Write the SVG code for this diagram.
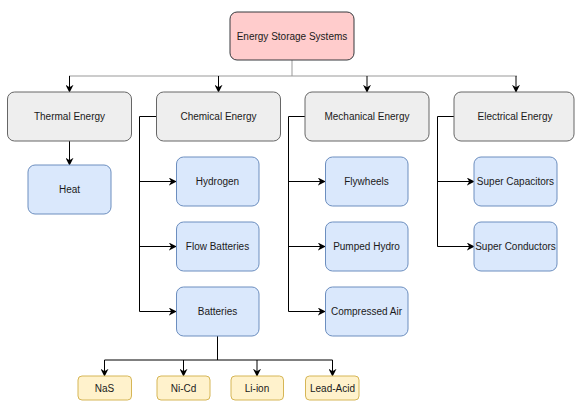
<svg xmlns="http://www.w3.org/2000/svg" width="575" height="401" viewBox="0 0 575 401">
<defs>
<marker id="arr" viewBox="0 0 10 10" refX="9" refY="5" markerWidth="8" markerHeight="8" markerUnits="userSpaceOnUse" orient="auto">
<path d="M0,0 L10,5 L0,10 L3,5 Z" fill="#000"/>
</marker>
<style>
text{font-family:"Liberation Sans",Arial,sans-serif;font-size:10px;fill:#1a1a1a;text-anchor:middle;dominant-baseline:central}
.root{fill:#ffcccc;stroke:#36393d;stroke-width:1}
.cat{fill:#eeeeee;stroke:#666666;stroke-width:1}
.sub{fill:#dae8fc;stroke:#6c8ebf;stroke-width:1}
.leaf{fill:#fff2cc;stroke:#d6b656;stroke-width:1}
.c{fill:none;stroke:#000;stroke-width:1}
.g{fill:none;stroke:#999;stroke-width:1}
</style>
</defs>
<rect width="575" height="401" fill="#fff"/>
<g id="connectors">
<path class="g" d="M292,60 V76"/>
<path class="g" d="M69,76 H517"/>
<path class="c" d="M69.5,76 V92" marker-end="url(#arr)"/>
<path class="c" d="M218.5,76 V92" marker-end="url(#arr)"/>
<path class="c" d="M367,76 V92" marker-end="url(#arr)"/>
<path class="c" d="M516,76 V92" marker-end="url(#arr)"/>
<path class="c" d="M69.5,141 V165" marker-end="url(#arr)"/>
<path class="c" d="M156,116.5 H139.5 V311.5 H176" marker-end="url(#arr)"/>
<path class="c" d="M139.5,181.5 H176" marker-end="url(#arr)"/>
<path class="c" d="M139.5,246.5 H176" marker-end="url(#arr)"/>
<path class="c" d="M305,116.5 H288.5 V311.5 H325" marker-end="url(#arr)"/>
<path class="c" d="M288.5,181.5 H325" marker-end="url(#arr)"/>
<path class="c" d="M288.5,246.5 H325" marker-end="url(#arr)"/>
<path class="c" d="M454,116.5 H437.5 V246.5 H474" marker-end="url(#arr)"/>
<path class="c" d="M437.5,181.5 H474" marker-end="url(#arr)"/>
<path class="c" d="M217.5,336 V360 M104.5,360 H332.5"/>
<path class="c" d="M104.5,360 V376" marker-end="url(#arr)"/>
<path class="c" d="M183.5,360 V376" marker-end="url(#arr)"/>
<path class="c" d="M257,360 V376" marker-end="url(#arr)"/>
<path class="c" d="M332.5,360 V376" marker-end="url(#arr)"/>
</g>
<g id="root"><rect class="root" x="230" y="12" width="124" height="48" rx="7"/><text x="292" y="36">Energy Storage Systems</text></g>
<g id="thermal"><rect class="cat" x="7.5" y="92" width="124" height="49" rx="7"/><text x="69.5" y="116.5">Thermal Energy</text></g>
<g id="chemical"><rect class="cat" x="156.5" y="92" width="124" height="49" rx="7"/><text x="218.5" y="116.5">Chemical Energy</text></g>
<g id="mechanical"><rect class="cat" x="305" y="92" width="124" height="49" rx="7"/><text x="367" y="116.5">Mechanical Energy</text></g>
<g id="electrical"><rect class="cat" x="454" y="92" width="120" height="49" rx="7"/><text x="515" y="116.5">Electrical Energy</text></g>
<g id="heat"><rect class="sub" x="28" y="165" width="83" height="49" rx="7"/><text x="69.5" y="189.5">Heat</text></g>
<g id="hydrogen"><rect class="sub" x="176.5" y="157" width="82.5" height="49" rx="7"/><text x="217.5" y="181.5">Hydrogen</text></g>
<g id="flow-batteries"><rect class="sub" x="176.5" y="222" width="82.5" height="49" rx="7"/><text x="217.5" y="246.5">Flow Batteries</text></g>
<g id="batteries"><rect class="sub" x="176.5" y="287" width="82.5" height="49" rx="7"/><text x="217.5" y="311.5">Batteries</text></g>
<g id="flywheels"><rect class="sub" x="325.5" y="157" width="82.5" height="49" rx="7"/><text x="366.5" y="181.5">Flywheels</text></g>
<g id="pumped-hydro"><rect class="sub" x="325.5" y="222" width="82.5" height="49" rx="7"/><text x="366.5" y="246.5">Pumped Hydro</text></g>
<g id="compressed-air"><rect class="sub" x="325.5" y="287" width="82.5" height="49" rx="7"/><text x="366.5" y="311.5">Compressed Air</text></g>
<g id="super-capacitors"><rect class="sub" x="474" y="157" width="83" height="49" rx="7"/><text x="515.5" y="181.5">Super Capacitors</text></g>
<g id="super-conductors"><rect class="sub" x="474" y="222" width="83" height="49" rx="7"/><text x="515.5" y="246.5">Super Conductors</text></g>
<g id="nas"><rect class="leaf" x="78" y="376" width="53.5" height="24" rx="4"/><text x="104.5" y="388">NaS</text></g>
<g id="nicd"><rect class="leaf" x="157" y="376" width="53" height="24" rx="4"/><text x="183.5" y="388">Ni-Cd</text></g>
<g id="liion"><rect class="leaf" x="231" y="376" width="52.5" height="24" rx="4"/><text x="257" y="388">Li-ion</text></g>
<g id="leadacid"><rect class="leaf" x="305.5" y="376" width="53.5" height="24" rx="4"/><text x="332.5" y="388">Lead-Acid</text></g>
</svg>
